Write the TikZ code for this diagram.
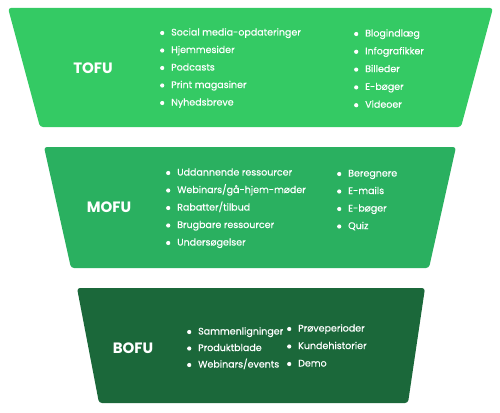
\documentclass[tikz,border=0pt]{standalone}
\usepackage{fontspec}
\setmainfont{Poppins}
\newfontfamily\itemfont{Poppins}[FakeBold=0.35]
\usetikzlibrary{positioning}
\definecolor{tofucolor}{RGB}{52,202,100}
\definecolor{mofucolor}{RGB}{42,176,96}
\definecolor{bofucolor}{RGB}{27,104,58}
\tikzset{
  stage/.style     = {rounded corners=3pt},
  stagename/.style = {font=\fontsize{15}{18}\selectfont\bfseries, text=white, inner sep=0pt},
  item/.style      = {anchor=west, inner sep=0pt, text height=7pt, text depth=2pt,
                      font=\itemfont\fontsize{9.5}{11}\selectfont, text=white},
  dot/.style       = {circle, fill=white, inner sep=0pt, minimum size=4.2pt},
}
\begin{document}
\begin{tikzpicture}[x=1pt, y=-1pt]
  \useasboundingbox (0,0) rectangle (500,412);
  % top of funnel
  \fill[tofucolor, stage] (8,8) -- (493,8) -- (461,127) -- (40,127) -- cycle;
  \node[stagename] (tofu) at (93,68) {TOFU};
  \foreach \t [count=\i] in {Social media-opdateringer, Hjemmesider, Podcasts,
                             Print magasiner, Nyhedsbreve} {
    \node[item] (tofuL\i) at (171, {33+17.5*(\i-1)}) {\t};
    \node[dot, left=6.5pt of tofuL\i] (tofuLb\i) {};
  }
  \foreach \t [count=\i] in {Blogindlæg, Infografikker, Billeder, E-bøger, Videoer} {
    \node[item] (tofuR\i) at (365, {34+17.8*(\i-1)}) {\t};
    \node[dot, left=6.5pt of tofuR\i] (tofuRb\i) {};
  }
  % middle of funnel
  \fill[mofucolor, stage] (44,147) -- (456,147) -- (429,268) -- (71,268) -- cycle;
  \node[stagename] (mofu) at (109,207) {MOFU};
  \foreach \t [count=\i] in {Uddannende ressourcer, Webinars/gå-hjem-møder,
                             Rabatter/tilbud, Brugbare ressourcer, Undersøgelser} {
    \node[item] (mofuL\i) at (177, {173+17.5*(\i-1)}) {\t};
    \node[dot, left=6.5pt of mofuL\i] (mofuLb\i) {};
  }
  \foreach \t [count=\i] in {Beregnere, E-mails, E-bøger, Quiz} {
    \node[item] (mofuR\i) at (348, {174+17.5*(\i-1)}) {\t};
    \node[dot, left=6.5pt of mofuR\i] (mofuRb\i) {};
  }
  % bottom of funnel
  \fill[bofucolor, stage] (77,288) -- (425,288) -- (408,403) -- (99,403) -- cycle;
  \node[stagename] (bofu) at (133,348) {BOFU};
  \foreach \t [count=\i] in {Sammenligninger, Produktblade, Webinars/events} {
    \node[item] (bofuL\i) at (198, {332+16.5*(\i-1)}) {\t};
    \node[dot, left=6.5pt of bofuL\i] (bofuLb\i) {};
  }
  \foreach \t [count=\i] in {Prøveperioder, Kundehistorier, Demo} {
    \node[item] (bofuR\i) at (298, {329+17.5*(\i-1)}) {\t};
    \node[dot, left=6.5pt of bofuR\i] (bofuRb\i) {};
  }
\end{tikzpicture}
\end{document}
